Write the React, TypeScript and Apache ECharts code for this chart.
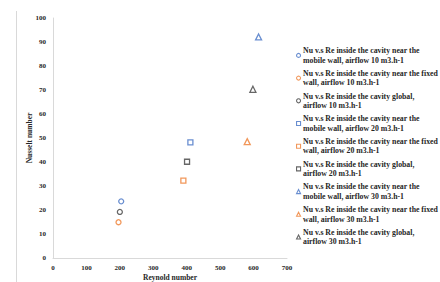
import React, { useEffect, useRef } from "react";
import * as echarts from "echarts";

const seriesNames = [
  "Nu v.s Re inside the cavity near the mobile wall, airflow 10 m3.h-1",
  "Nu v.s Re inside the cavity near the fixed wall, airflow 10 m3.h-1",
  "Nu v.s Re inside the cavity global, airflow 10 m3.h-1",
  "Nu v.s Re inside the cavity near the mobile wall, airflow 20 m3.h-1",
  "Nu v.s Re inside the cavity near the fixed wall, airflow 20 m3.h-1",
  "Nu v.s Re inside the cavity global, airflow 20 m3.h-1",
  "Nu v.s Re inside the cavity near the mobile wall, airflow 30 m3.h-1",
  "Nu v.s Re inside the cavity near the fixed wall, airflow 30 m3.h-1",
  "Nu v.s Re inside the cavity global, airflow 30 m3.h-1",
];
const reynolds = [204, 196, 200, 411, 390, 401, 615, 581, 598];
const nusselt = [23.6, 14.9, 19.2, 48.2, 32.2, 40.1, 92.1, 48.5, 70.3];
const seriesColors = ["#4472C4", "#ED7D31", "#404040", "#4472C4", "#ED7D31", "#404040", "#4472C4", "#ED7D31", "#404040"];
const seriesSymbols = ["circle", "circle", "circle", "rect", "rect", "rect", "triangle", "triangle", "triangle"];

const FONT = "'Liberation Serif', 'DejaVu Serif', serif";

export default function App() {
  const ref = useRef<HTMLDivElement>(null);
  useEffect(() => {
    const chart = echarts.init(ref.current!, null, { renderer: "svg" });
    const LH = 9.6;
    chart.setOption({
      animation: false,
      backgroundColor: "#ffffff",
      textStyle: { fontFamily: FONT },
      graphic: [
        { type: "line", shape: { x1: 16.5, y1: 11, x2: 16.5, y2: 282 }, style: { stroke: "#d9d9d9", lineWidth: 1 } },
      ],
      grid: { left: 53, right: 153, top: 18, bottom: 24, outerBoundsMode: "none", containLabel: false },
      xAxis: {
        type: "value",
        min: 0,
        max: 700,
        interval: 100,
        name: "Reynold number",
        nameLocation: "middle",
        nameGap: 15,
        nameMoveOverlap: false,
        nameTextStyle: { fontFamily: FONT, fontWeight: "bold", fontSize: 7.5, color: "#262626" },
        axisLine: { lineStyle: { color: "#d9d9d9" } },
        axisTick: { show: false },
        splitLine: { show: false },
        axisLabel: { fontFamily: FONT, fontWeight: "bold", fontSize: 7, color: "#262626", margin: 6 },
      },
      yAxis: {
        type: "value",
        min: 0,
        max: 100,
        interval: 10,
        name: "Nusselt number",
        nameLocation: "middle",
        nameGap: 20,
        nameMoveOverlap: false,
        nameTextStyle: { fontFamily: FONT, fontWeight: "bold", fontSize: 7.5, color: "#262626" },
        axisLine: { show: true, lineStyle: { color: "#d9d9d9" } },
        axisTick: { show: false },
        splitLine: { show: false },
        axisLabel: { fontFamily: FONT, fontWeight: "bold", fontSize: 7, color: "#262626", margin: 7 },
      },
      legend: {
        orient: "vertical",
        left: 296,
        top: 41,
        itemWidth: 4,
        itemHeight: 4,
        itemGap: 22.7 - 3 * LH,
        padding: 0,
        itemStyle: { borderWidth: 1.1 },
        formatter: (name: string) =>
          name
            .replace("near the mobile wall", "near the\nmobile wall")
            .replace("fixed wall", "fixed\nwall")
            .replace("global, ", "global,\n"),
        textStyle: {
          fontFamily: FONT,
          fontWeight: "bold",
          fontSize: 7.8,
          lineHeight: LH,
          color: "#262626",
          padding: [LH, 0, 0, -2.5],
        },
        data: seriesNames,
      },
      series: seriesNames.map((name, i) => ({
        type: "scatter",
        name,
        symbol: seriesSymbols[i],
        symbolSize: seriesSymbols[i] === "triangle" ? 6 : 5,
        itemStyle: { color: "#ffffff", borderColor: seriesColors[i], borderWidth: 1.3 },
        data: [[reynolds[i], nusselt[i]]],
      })),
    });
    return () => chart.dispose();
  }, []);
  return <div ref={ref} style={{ position: "fixed", left: 0, top: 0, width: 440, height: 282 }} />;
}
